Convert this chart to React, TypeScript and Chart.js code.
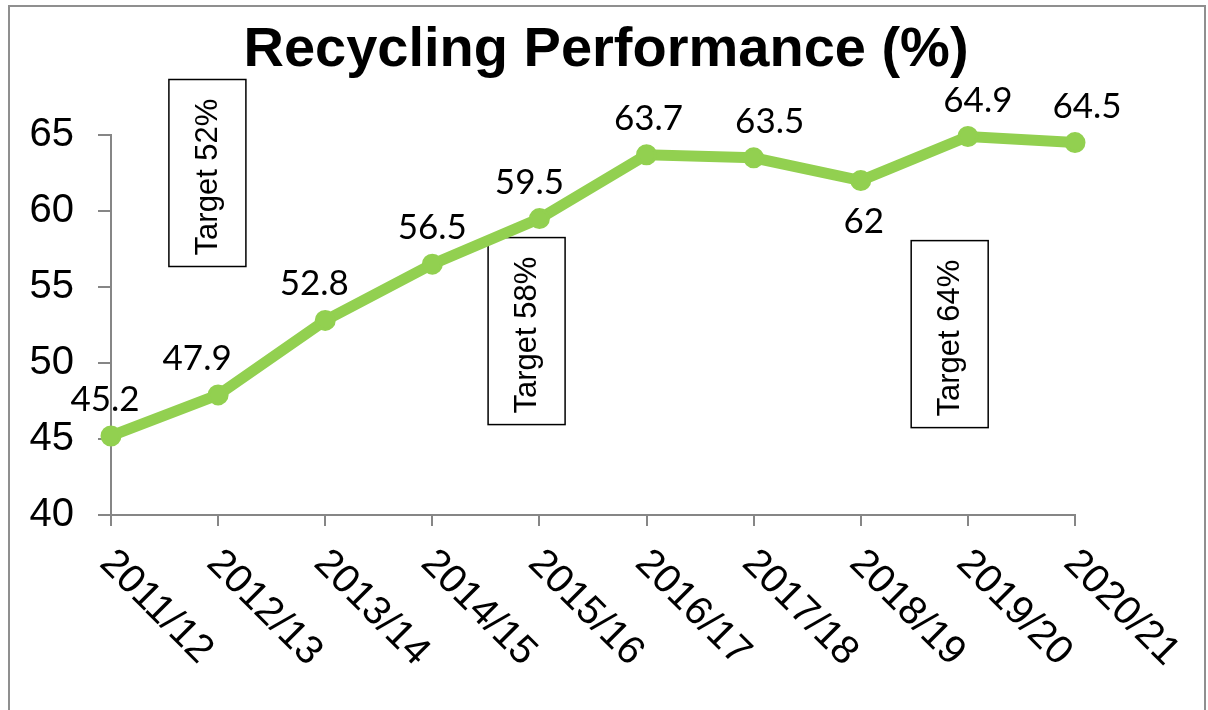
import React, { useEffect, useRef } from "react";
import { Chart, registerables } from "chart.js";

Chart.register(...registerables);

// ---- data ----
const TITLE = "Recycling Performance (%)";
const categories = [
  "2011/12", "2012/13", "2013/14", "2014/15", "2015/16",
  "2016/17", "2017/18", "2018/19", "2019/20", "2020/21",
];
const recyclingRate = [45.2, 47.9, 52.8, 56.5, 59.5, 63.7, 63.5, 62, 64.9, 64.5];
const yMin = 40;
const yMax = 65;
const yStep = 5;

// annotations (text boxes) and their anchors (category position, value)
const targetLabels = ["Target 52%", "Target 58%", "Target 64%"];
const targetAnchorCat = [0.9, 3.88, 7.83];
const targetAnchorVal = [62.5, 52.1, 51.9];

// value-label placement
const labelSide = ["above", "above", "above", "above", "above", "above", "above", "below", "above", "above"];
const labelNudgeX = [-6, -21, -11, 0, -10, 2, 16, 3, 10, 12];

// ---- styles ----
const GREEN = "#92D050";
const AXIS = "#868686";
const ARIAL = "'Liberation Sans', Arial, sans-serif";
const LABEL_FONT = "Lato, 'Noto Sans', sans-serif";

const titlePlugin = {
  id: "titleText",
  afterDraw(chart: any) {
    const ctx = chart.ctx;
    ctx.save();
    ctx.font = `bold 56px ${ARIAL}`;
    ctx.fillStyle = "#000";
    ctx.textAlign = "center";
    ctx.textBaseline = "alphabetic";
    ctx.fillText(TITLE, 606, 66);
    ctx.restore();
  },
};

const targetBoxPlugin = {
  id: "targetBoxes",
  beforeDatasetsDraw(chart: any) {
    const ctx = chart.ctx;
    const xs = chart.scales.x;
    const ys = chart.scales.y;
    const w = 77;
    const h = 187;
    ctx.save();
    targetLabels.forEach((t, i) => {
      const cx = xs.getPixelForValue(targetAnchorCat[i]);
      const cy = ys.getPixelForValue(targetAnchorVal[i]);
      ctx.fillStyle = "#fff";
      ctx.fillRect(cx - w / 2, cy - h / 2, w, h);
      ctx.strokeStyle = "#000";
      ctx.lineWidth = 1.5;
      ctx.strokeRect(cx - w / 2, cy - h / 2, w, h);
      ctx.save();
      ctx.translate(cx, cy);
      ctx.rotate(-Math.PI / 2);
      ctx.font = `31px ${ARIAL}`;
      ctx.fillStyle = "#000";
      ctx.textAlign = "center";
      ctx.textBaseline = "middle";
      ctx.fillText(t, -4, 1);
      ctx.restore();
    });
    ctx.restore();
  },
};

const valueLabelPlugin = {
  id: "valueLabels",
  afterDatasetsDraw(chart: any) {
    const ctx = chart.ctx;
    const meta = chart.getDatasetMeta(0);
    ctx.save();
    ctx.font = `35px ${LABEL_FONT}`;
    ctx.fillStyle = "#000";
    ctx.textAlign = "center";
    ctx.textBaseline = "alphabetic";
    meta.data.forEach((pt: any, i: number) => {
      const v = recyclingRate[i];
      const y = labelSide[i] === "below" ? pt.y + 52 : pt.y - 25;
      ctx.fillText(String(v), pt.x + labelNudgeX[i], y);
    });
    ctx.restore();
  },
};

const xLabelPlugin = {
  id: "xLabels",
  afterDraw(chart: any) {
    const ctx = chart.ctx;
    const xs = chart.scales.x;
    const base = chart.chartArea.bottom;
    ctx.save();
    ctx.font = `40px ${ARIAL}`;
    ctx.fillStyle = "#000";
    ctx.textAlign = "left";
    ctx.textBaseline = "middle";
    categories.forEach((c, i) => {
      const x = xs.getPixelForTick(i);
      ctx.save();
      ctx.translate(x - 5, base + 42);
      ctx.rotate(Math.PI / 4);
      ctx.fillText(c, 0, 0);
      ctx.restore();
    });
    ctx.restore();
  },
};

export default function App() {
  const ref = useRef<HTMLCanvasElement>(null);
  useEffect(() => {
    const canvas = ref.current!;
    const chart = new Chart(canvas, {
      type: "line",
      data: {
        labels: categories,
        datasets: [
          {
            data: recyclingRate,
            borderColor: GREEN,
            backgroundColor: GREEN,
            borderWidth: 11,
            pointRadius: 9,
            pointBorderWidth: 3,
            pointBackgroundColor: GREEN,
            pointBorderColor: GREEN,
            tension: 0,
            clip: false as any,
          },
        ],
      },
      options: {
        responsive: false,
        animation: false,
        devicePixelRatio: 1,
        layout: { padding: { left: 8, right: 133, top: 135, bottom: 184 } },
        plugins: {
          legend: { display: false },
          tooltip: { enabled: false },
          title: { display: false },
        },
        scales: {
          x: {
            offset: false,
            grid: {
              display: true,
              drawOnChartArea: false,
              drawTicks: true,
              tickLength: 11,
              color: AXIS,
              lineWidth: 2,
            },
            border: { display: true, color: AXIS, width: 2 },
            ticks: { display: false },
          },
          y: {
            min: yMin,
            max: yMax,
            afterFit: (s: any) => {
              s.width = 103;
            },
            ticks: {
              stepSize: yStep,
              padding: 24,
              color: "#000",
              font: { family: ARIAL, size: 40 },
            },
            grid: {
              display: true,
              drawOnChartArea: false,
              drawTicks: true,
              tickLength: 13,
              color: AXIS,
              lineWidth: 2,
            },
            border: { display: true, color: AXIS, width: 2 },
          },
        },
      } as any,
      plugins: [targetBoxPlugin, valueLabelPlugin, xLabelPlugin, titlePlugin],
    });
    return () => chart.destroy();
  }, []);
  return (
    <>
      <canvas
        ref={ref}
        width={1208}
        height={710}
        style={{ position: "fixed", left: 0, top: 0, width: 1208, height: 710 }}
      />
      <div
        style={{
          position: "fixed",
          left: 8,
          top: 5,
          width: 1194,
          height: 720,
          border: "2px solid #8f8f8f",
          pointerEvents: "none",
        }}
      />
    </>
  );
}
